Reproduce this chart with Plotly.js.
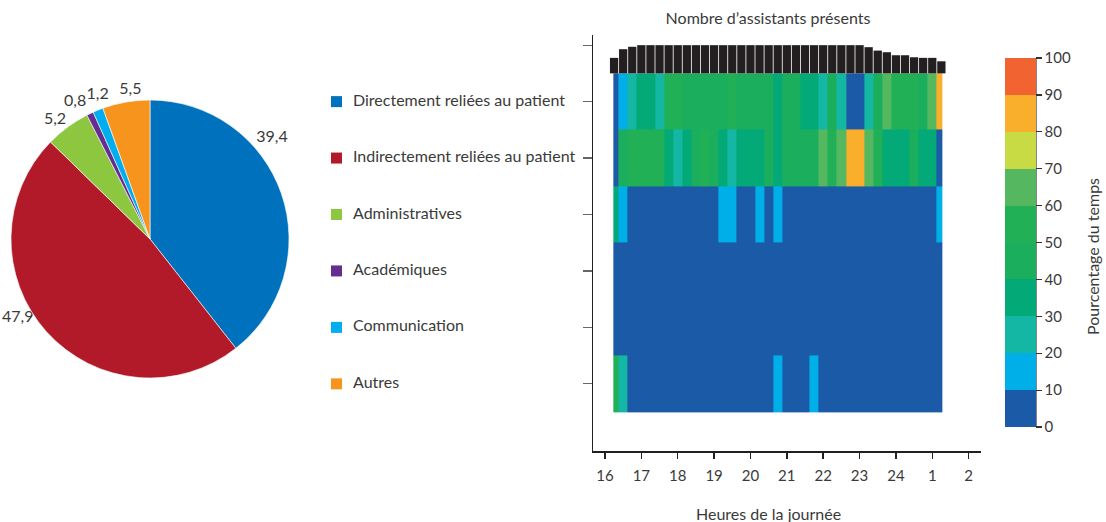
<!DOCTYPE html>
<html>
<head>
<meta charset="utf-8">
<script src="https://cdn.plot.ly/plotly-3.0.1.min.js"></script>
<style>html,body{margin:0;padding:0;background:#fff;}#chart{width:1106px;height:522px;}</style>
</head>
<body>
<div id="chart"></div>
<script>
// ---------- DATA ----------
const categories = ["Directement reliées au patient","Indirectement reliées au patient","Administratives","Académiques","Communication","Autres"];
const pieValues = [39.4, 47.9, 5.2, 0.8, 1.2, 5.5];
const catColors = ["#0071BC","#B21A2A","#8DC63F","#662D91","#00AEEF","#F7941D"];

// quarter-hour time slots (hours; 24+ = after midnight)
const timeSlots = [16.25,16.5,16.75,17,17.25,17.5,17.75,18,18.25,18.5,18.75,19,19.25,19.5,19.75,20,20.25,20.5,20.75,21,21.25,21.5,21.75,22,22.25,22.5,22.75,23,23.25,23.5,23.75,24,24.25,24.5,24.75,25,25.25];
const hourTicks = [16,17,18,19,20,21,22,23,24,25,26];
const hourTickLabels = ["16","17","18","19","20","21","22","23","24","1","2"];

// number of assistants present per slot
const assistants = [7.7,12,13.2,14,14,14,14,14,14,14,14,14,14,14,14,14,14,14,14,14,14,14,14,14,14,14,14,14,13,11.3,10.5,9,9,8,7.7,7.7,6];

// percentage of time per category and slot
const pctDirect   = [5,15,27,36,35,28,52,56,48,47,45,46,47,50,48,46,45,43,35,45,47,38,36,28,42,29,8,6,28,44,62,52,55,50,48,61,83];
const pctIndirect = [5,45,55,52,55,58,38,29,36,48,50,47,38,29,35,38,37,41,34,45,46,48,48,64,52,63,85,86,65,51,33,38,36,42,39,37,6];
const pctAdmin    = [36,14,5,4,6,5,7,5,4,3,5,4,13,16,5,4,12,6,13,4,3,5,2,3,4,5,3,2,4,3,5,4,3,5,4,3,11];
const pctAcad     = [1,0,1,2,1,0,1,1,0,1,2,1,0,1,1,0,1,2,1,0,1,1,0,1,1,0,1,1,0,1,1,2,0,1,1,0,1];
const pctComm     = [1,2,1,1,2,1,1,2,1,1,1,2,1,1,2,1,1,1,2,1,1,2,1,1,1,2,1,1,1,2,1,1,1,2,1,1,2];
const pctAutres   = [50,24,5,4,6,5,4,5,6,4,5,3,4,5,6,4,5,4,12,5,6,4,11,5,4,3,5,4,5,3,4,5,4,3,4,5,3];

const binColors = ["#1B5AA7","#00AEE8","#13B7A3","#03AA78","#1BAE5C","#22B057","#55B860","#C8DB45","#F9AF2B","#F16330"];

// ---------- STYLE / LAYOUT CONSTANTS ----------
const W = 1106, H = 522;
const FONT = "Lato, 'Open Sans', sans-serif";
const TXT = "#3a3a3a";
const PIE_CX = 150, PIE_CY = 239, PIE_R = 139;
// where along each slice its value label sits (0 = slice start, 1 = slice end) and at what radius
const pieLabelFrac = [0.355, 0.5634, 0.38, -0.6, 0.95, 0.62];
const pieLabelR = [1.14, 1.11, 1.095, 1.12, 1.10, 1.08];
const LEGEND_MARK_X = 336.5, LEGEND_TEXT_X = 353;

// ---------- BUILD ----------
const rowY = [5,4,3,2,1,0]; // row of each category (top to bottom)
const zRows = [pctAutres, pctComm, pctAcad, pctAdmin, pctIndirect, pctDirect]; // y = 0..5
const yRows = [0,1,2,3,4,5];

const edges = [timeSlots[0]-0.02];
for (let i = 0; i < timeSlots.length-1; i++) edges.push((timeSlots[i]+timeSlots[i+1])/2);
edges.push(timeSlots[timeSlots.length-1]+0.02);

const colorscale = [];
binColors.forEach((c,i)=>{ colorscale.push([i/10,c]); colorscale.push([(i+1)/10,c]); });

const plotL = 593, plotR = 981, plotT = 35, plotB = 451;
const yRange = [-1.19, 6.18];
const barBase = 5.5, barBandFrac = 0.5;
const maxA = Math.max(...assistants);
const s = barBandFrac / maxA;
const y2Range = [(yRange[0]-barBase)/s, (yRange[1]-barBase)/s];

// pie value labels (computed from the slice angles, clockwise from 12 o'clock)
const total = pieValues.reduce((a,b)=>a+b,0);
const pieText = pieValues.map(v => v.toFixed(1).replace('.', ','));
const lblX = [], lblY = [];
let cum = 0;
pieValues.forEach((v,i)=>{
  const a0 = cum/total*2*Math.PI, a1 = (cum+v)/total*2*Math.PI;
  const a = a0 + (a1-a0)*pieLabelFrac[i];
  lblX.push(PIE_CX + PIE_R*pieLabelR[i]*Math.sin(a));
  lblY.push(PIE_CY - PIE_R*pieLabelR[i]*Math.cos(a));
  cum += v;
});

const traces = [
  {
    type: 'pie', values: pieValues, labels: categories,
    textinfo: 'none', sort: false, direction: 'clockwise', rotation: 0,
    marker: {colors: catColors, line: {color: '#fff', width: 0.6}},
    domain: {x: [(PIE_CX-PIE_R)/W, (PIE_CX+PIE_R)/W], y: [1-(PIE_CY+PIE_R)/H, 1-(PIE_CY-PIE_R)/H]},
    hoverinfo: 'none', showlegend: false
  },
  {
    type: 'scatter', mode: 'text', x: lblX, y: lblY, text: pieText, xaxis: 'x3', yaxis: 'y4',
    textposition: 'middle center', textfont: {family: FONT, size: 16, color: TXT},
    hoverinfo: 'none', cliponaxis: false
  },
  {
    type: 'heatmap', x: edges, y: yRows, z: zRows, xaxis: 'x', yaxis: 'y',
    zmin: 0, zmax: 100, colorscale: colorscale, zsmooth: false, hoverinfo: 'none',
    colorbar: {
      x: 1005/W, xanchor: 'left', xpad: 0, y: 1-242.5/H, yanchor: 'middle', ypad: 0,
      thickness: 31, thicknessmode: 'pixels', len: 369, lenmode: 'pixels',
      outlinewidth: 0, ticks: 'outside', ticklen: 6, tickwidth: 1.2, tickcolor: '#333',
      tickvals: [0,10,20,30,40,50,60,70,80,90,100], tickprefix: '\u2009',
      tickfont: {family: FONT, size: 15, color: TXT}
    }
  },
  {
    type: 'bar', x: timeSlots, y: assistants, xaxis: 'x', yaxis: 'y2', width: 0.228,
    marker: {color: '#231F20', line: {width: 0}}, hoverinfo: 'none'
  },
  {
    type: 'scatter', mode: 'markers', x: categories.map(()=>LEGEND_MARK_X), y: rowY, xaxis: 'x3', yaxis: 'y',
    marker: {symbol: 'square', size: 11, color: catColors}, hoverinfo: 'none', cliponaxis: false
  },
  {
    type: 'scatter', mode: 'text', x: categories.map(()=>LEGEND_TEXT_X), y: rowY, xaxis: 'x3', yaxis: 'y',
    text: categories, textposition: 'middle right', textfont: {family: FONT, size: 16, color: TXT},
    hoverinfo: 'none', cliponaxis: false
  }
];

const layout = {
  width: W, height: H, margin: {l:0, r:0, t:0, b:0}, paper_bgcolor: '#fff', plot_bgcolor: 'rgba(0,0,0,0)',
  showlegend: false, font: {family: FONT, color: TXT},
  title: {text: 'Nombre d’assistants présents', x: 768/W, xanchor: 'center', y: 1-18/H, yanchor: 'middle',
          font: {family: FONT, size: 16, color: TXT}},
  xaxis: {
    domain: [plotL/W, plotR/W], anchor: 'y', range: [15.67, 26.34], automargin: false,
    tickvals: hourTicks, ticktext: hourTickLabels, ticks: 'outside', ticklen: 6, tickwidth: 1.5, tickcolor: '#231F20',
    ticklabelstandoff: 4,
    showline: true, linecolor: '#231F20', linewidth: 1.5, showgrid: false, zeroline: false,
    tickfont: {family: FONT, size: 15, color: TXT}
  },
  yaxis: {
    domain: [1-plotB/H, 1-plotT/H], anchor: 'x', range: yRange, automargin: false,
    tickvals: [0,1,2,3,4,5,6], showticklabels: false, ticks: 'outside', ticklen: 9, tickwidth: 1.2, tickcolor: '#666',
    showline: true, linecolor: '#231F20', linewidth: 1.5, showgrid: false, zeroline: false
  },
  yaxis2: {overlaying: 'y', anchor: 'x', range: y2Range, visible: false, showgrid: false, zeroline: false},
  xaxis3: {domain: [0, 1], anchor: 'y', range: [0, W], visible: false, showgrid: false, zeroline: false},
  yaxis4: {domain: [0, 1], anchor: 'x3', range: [H, 0], visible: false, showgrid: false, zeroline: false},
  annotations: [
    {text: 'Heures de la journée', xref: 'paper', yref: 'paper', x: 768/W, y: 1-513/H, xanchor: 'center', yanchor: 'middle',
     showarrow: false, font: {family: FONT, size: 16, color: TXT}},
    {text: 'Pourcentage du temps', xref: 'paper', yref: 'paper', x: 1093/W, y: 1-257/H, xanchor: 'center', yanchor: 'middle',
     textangle: -90, showarrow: false, font: {family: FONT, size: 16, color: TXT}}
  ],
  shapes: [{type: 'line', xref: 'paper', yref: 'paper', x0: 1036/W, x1: 1036/W, y0: 1-427/H, y1: 1-58/H,
            line: {color: '#333', width: 1.2}}]
};

Plotly.newPlot('chart', traces, layout, {displayModeBar: false, staticPlot: true});
</script>
</body>
</html>
